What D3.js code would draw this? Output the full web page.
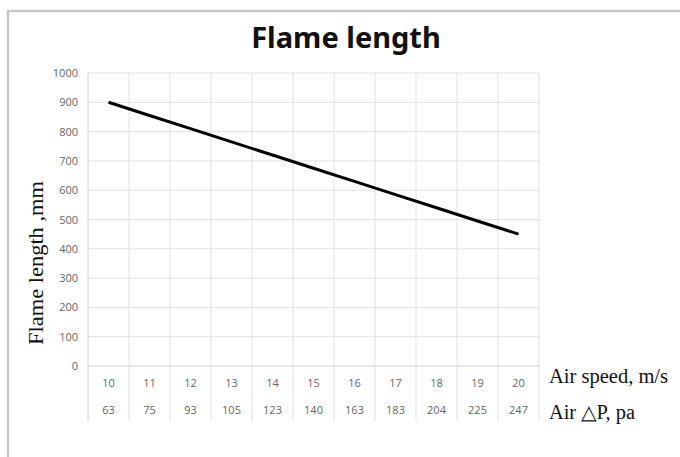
<!DOCTYPE html>
<html>
<head>
<meta charset="utf-8">
<script src="https://cdn.jsdelivr.net/npm/d3@7"></script>
<style>
  body { margin: 0; background: #fff; }
</style>
</head>
<body>
<script>
// data
const speeds = ["10","11","12","13","14","15","16","17","18","19","20"]
const pressures = ["63","75","93","105","123","140","163","183","204","225","247"]
const flameLength = [900, 855, 810, 765, 720, 675, 630, 585, 540, 495, 450]
const yTicks = [0,100,200,300,400,500,600,700,800,900,1000]

const w = 680
const h = 457

let svg = d3.select("body").append("svg")
            .attr("width", w)
            .attr("height", h)

// outer frame
svg.append("path")
    .attr("d", "M8,457 V11 H680")
    .attr("fill", "none")
    .attr("stroke", "#c6c6c6")
    .attr("stroke-width", 2.5)

// title
svg.append("text")
    .attr("x", 346).attr("y", 48)
    .attr("text-anchor", "middle")
    .attr("font-family", "Noto Sans")
    .attr("font-weight", "bold")
    .attr("font-size", "29px")
    .attr("fill", "#111")
    .text("Flame length")

const x = d3.scaleBand().domain(speeds).range([88, 539])
const y = d3.scaleLinear().domain([0, 1000]).range([366, 73])
const tableBottom = 421

// horizontal grid
svg.selectAll(".hgrid")
    .data(yTicks)
    .enter()
    .append("line")
    .attr("x1", 88).attr("x2", 539)
    .attr("y1", d => y(d)).attr("y2", d => y(d))
    .attr("stroke", d => d == 0 ? "#cfcfcf" : "#e0e0e0")
    .attr("stroke-width", 1)

// vertical grid (band boundaries, run down through the table)
let bounds = speeds.map(d => x(d)).concat([x.range()[1]])
svg.selectAll(".vgrid")
    .data(bounds)
    .enter()
    .append("line")
    .attr("x1", d => d).attr("x2", d => d)
    .attr("y1", y(1000)).attr("y2", tableBottom)
    .attr("stroke", (d, i) => i == 0 ? "#d0d0d0" : "#e0e0e0")
    .attr("stroke-width", 1)

// y tick labels
svg.selectAll(".ylab")
    .data(yTicks)
    .enter()
    .append("text")
    .attr("x", 78)
    .attr("y", d => y(d) + 4)
    .attr("text-anchor", "end")
    .attr("font-family", "Open Sans")
    .attr("font-size", "11px")
    .attr("fill", "#666")
    .text(d => d)

// table rows
svg.selectAll(".row1")
    .data(speeds)
    .enter()
    .append("text")
    .attr("x", d => x(d) + x.bandwidth()/2)
    .attr("y", 387)
    .attr("text-anchor", "middle")
    .attr("font-family", "Open Sans")
    .attr("font-size", "11px")
    .attr("fill", "#666")
    .text(d => d)

svg.selectAll(".row2")
    .data(pressures)
    .enter()
    .append("text")
    .attr("x", (d, i) => x(speeds[i]) + x.bandwidth()/2)
    .attr("y", 414)
    .attr("text-anchor", "middle")
    .attr("font-family", "Open Sans")
    .attr("font-size", "11px")
    .attr("fill", "#666")
    .text(d => d)

// row titles
svg.append("text")
    .attr("x", 549).attr("y", 383)
    .attr("font-family", "Liberation Serif")
    .attr("font-size", "20px")
    .attr("textLength", 119)
    .attr("lengthAdjust", "spacingAndGlyphs")
    .attr("fill", "#111")
    .text("Air speed, m/s")

svg.append("text")
    .attr("x", 549).attr("y", 419)
    .attr("font-family", "Liberation Serif")
    .attr("font-size", "20px")
    .attr("textLength", 86)
    .attr("lengthAdjust", "spacingAndGlyphs")
    .attr("fill", "#111")
    .text("Air \u25B3P, pa")

// y axis title
svg.append("text")
    .attr("transform", "translate(43,263) rotate(-90)")
    .attr("text-anchor", "middle")
    .attr("font-family", "Liberation Serif")
    .attr("font-size", "20px")
    .attr("textLength", 164)
    .attr("lengthAdjust", "spacingAndGlyphs")
    .attr("fill", "#111")
    .text("Flame length ,mm")

// the line
let line = d3.line()
    .x((d, i) => x(speeds[i]) + x.bandwidth()/2)
    .y(d => y(d))

svg.append("path")
    .datum(flameLength)
    .attr("d", line)
    .attr("fill", "none")
    .attr("stroke", "#000")
    .attr("stroke-width", 3)
</script>
</body>
</html>
